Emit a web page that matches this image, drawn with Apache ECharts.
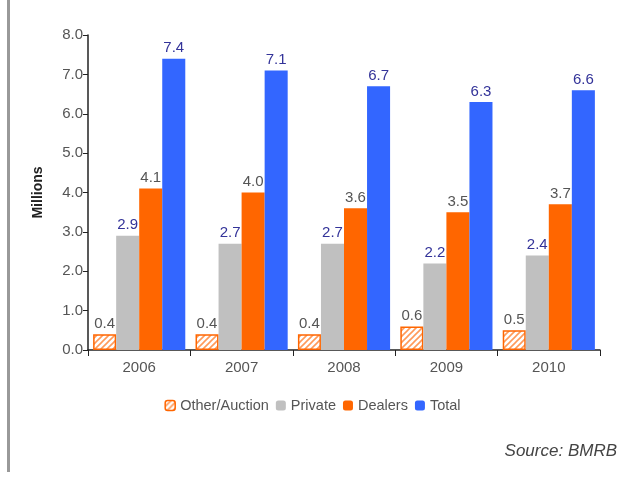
<!DOCTYPE html>
<html>
<head>
<meta charset="utf-8">
<script src="https://cdn.jsdelivr.net/npm/echarts@6/dist/echarts.min.js"></script>
<style>
  html, body { margin: 0; padding: 0; background: #fff; }
  #chart { width: 625px; height: 482px; }
</style>
</head>
<body>
<div id="chart"></div>
<script>
// Used-car transactions by channel, in millions
const years = ['2006', '2007', '2008', '2009', '2010'];
const otherAuction = [0.4, 0.4, 0.4, 0.6, 0.5];
const privateSales = [2.9, 2.7, 2.7, 2.2, 2.4];
const dealers = [4.1, 4.0, 3.6, 3.5, 3.7];
const total = [7.4, 7.1, 6.7, 6.3, 6.6];
const yTicks = [0, 1, 2, 3, 4, 5, 6, 7, 8];

const ORANGE = '#ff6600';
const GREY = '#c0c0c0';
const BLUE = '#3366ff';
const FONT = '"Liberation Sans", Arial, sans-serif';

// Diagonal hatch fill for the Other/Auction bars
function hatch() {
  const c = document.createElement('canvas');
  c.width = 6; c.height = 6;
  const g = c.getContext('2d');
  g.fillStyle = '#fff';
  g.fillRect(0, 0, 6, 6);
  g.strokeStyle = '#ff9a5a';
  g.lineWidth = 1.6;
  g.beginPath();
  g.moveTo(-1, 7); g.lineTo(7, -1);
  g.moveTo(-4, 4); g.lineTo(4, -4);
  g.moveTo(2, 10); g.lineTo(10, 2);
  g.stroke();
  return c;
}
const hatchFill = { image: hatch(), repeat: 'repeat' };

const chart = echarts.init(document.getElementById('chart'), null, { renderer: 'canvas' });

function labelOf(color) {
  return {
    show: true, position: 'top', distance: 3,
    color: color, fontSize: 15, fontFamily: FONT,
    formatter: p => p.value.toFixed(1)
  };
}

chart.setOption({
  animation: false,
  backgroundColor: '#fff',
  grid: { left: 88, right: 25, top: 35, bottom: 132 },
  legend: {
    bottom: 64, left: 'center',
    itemWidth: 10, itemHeight: 10, itemGap: 7,
    textStyle: { color: '#555', fontSize: 14.5, fontFamily: FONT },
    data: [
      { name: 'Other/Auction', itemStyle: { color: hatchFill, borderColor: ORANGE, borderWidth: 1.5 } },
      { name: 'Private' }, { name: 'Dealers' }, { name: 'Total' }
    ]
  },
  xAxis: {
    type: 'category', data: years,
    axisLine: { lineStyle: { color: '#222', width: 1.5 } },
    axisTick: { show: true, length: 6, lineStyle: { color: '#222' } },
    axisLabel: { color: '#555', fontSize: 15, fontFamily: FONT, margin: 10 }
  },
  yAxis: {
    type: 'value', min: yTicks[0], max: yTicks[yTicks.length - 1], interval: 1,
    name: 'Millions', nameLocation: 'middle', nameGap: 43, nameRotate: 90,
    nameTextStyle: { color: '#222', fontSize: 14, fontWeight: 'bold', fontFamily: FONT },
    axisLine: { show: true, lineStyle: { color: '#222', width: 1.5 } },
    axisTick: { show: true, length: 5, inside: false, lineStyle: { color: '#222' } },
    splitLine: { show: false },
    axisLabel: { color: '#555', fontSize: 15, fontFamily: FONT, margin: 5, formatter: v => v.toFixed(1) }
  },
  series: [
    {
      name: 'Other/Auction', type: 'bar', data: otherAuction,
      barGap: '0%', barCategoryGap: '10%',
      itemStyle: { color: hatchFill, borderColor: ORANGE, borderWidth: 1.5 },
      label: labelOf('#555')
    },
    { name: 'Private', type: 'bar', data: privateSales, itemStyle: { color: GREY }, label: labelOf('#333399') },
    { name: 'Dealers', type: 'bar', data: dealers, itemStyle: { color: ORANGE }, label: labelOf('#555') },
    { name: 'Total', type: 'bar', data: total, itemStyle: { color: BLUE }, label: labelOf('#333399') }
  ],
  graphic: [
    { type: 'rect', shape: { x: 7, y: 0, width: 3, height: 472 }, style: { fill: '#999' } },
    {
      type: 'text', right: 8, top: 443,
      style: { text: 'Source: BMRB', fill: '#444', font: 'italic 17px ' + FONT }
    }
  ]
});
</script>
</body>
</html>
